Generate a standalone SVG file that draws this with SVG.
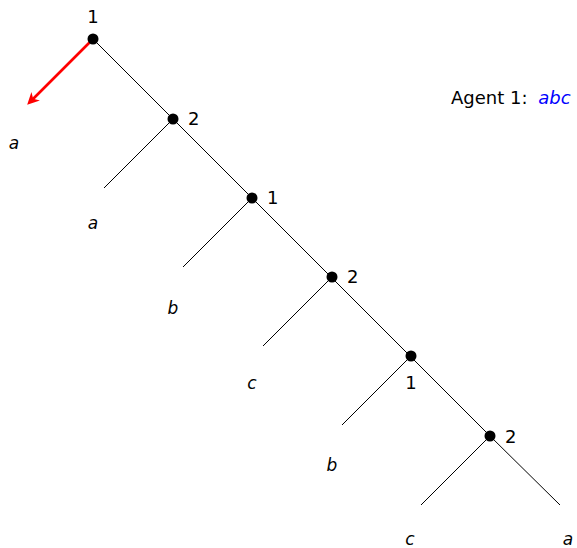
<svg xmlns="http://www.w3.org/2000/svg" width="577" height="548" viewBox="0 0 577 548">
  <style>
    .edge { stroke: #000; stroke-width: 1; fill: none; }
    .node { fill: #000; }
    .lbl { font-family: "DejaVu Sans", "Liberation Sans", sans-serif; font-size: 18px; fill: #000; }
    .leaf { font-family: "DejaVu Sans", "Liberation Sans", sans-serif; font-size: 17px; font-style: italic; fill: #000; text-anchor: middle; }
    .play { font-family: "DejaVu Sans", "Liberation Sans", sans-serif; font-size: 18px; font-style: italic; fill: #0000ff; }
  </style>
  <defs>
    <marker id="redHead" markerWidth="12" markerHeight="12" refX="8" refY="6" orient="auto" markerUnits="userSpaceOnUse">
      <path d="M0,0 L12,6 L0,12 L3.5,6 Z" fill="#ff0000"/>
    </marker>
  </defs>
  <rect width="577" height="548" fill="#fff"/>

  <g id="connectors">
    <line class="edge" x1="93" y1="39" x2="490" y2="436"/>
    <line class="edge" x1="490" y1="436" x2="560" y2="505"/>
    <line class="edge" x1="173" y1="119" x2="104" y2="188"/>
    <line class="edge" x1="252" y1="198" x2="183" y2="267"/>
    <line class="edge" x1="332" y1="277" x2="263" y2="346"/>
    <line class="edge" x1="411" y1="356" x2="342" y2="425"/>
    <line class="edge" x1="490" y1="436" x2="421" y2="505"/>
    <line x1="90" y1="42" x2="30" y2="102" stroke="#ff0000" stroke-width="2.6" marker-end="url(#redHead)"/>
  </g>

  <g id="n1"><circle class="node" cx="93" cy="39" r="5.5"/><text class="lbl" x="93" y="23" text-anchor="middle">1</text></g>
  <g id="n2"><circle class="node" cx="173" cy="119" r="5.5"/><text class="lbl" x="188" y="125">2</text></g>
  <g id="n3"><circle class="node" cx="252" cy="198" r="5.5"/><text class="lbl" x="267" y="204">1</text></g>
  <g id="n4"><circle class="node" cx="332" cy="277" r="5.5"/><text class="lbl" x="347" y="283">2</text></g>
  <g id="n5"><circle class="node" cx="411" cy="356" r="5.5"/><text class="lbl" x="411" y="389" text-anchor="middle">1</text></g>
  <g id="n6"><circle class="node" cx="490" cy="436" r="5.5"/><text class="lbl" x="505" y="443">2</text></g>

  <g id="leaves">
    <text class="leaf" x="14" y="149">a</text>
    <text class="leaf" x="93" y="229">a</text>
    <text class="leaf" x="173" y="314">b</text>
    <text class="leaf" x="252" y="389">c</text>
    <text class="leaf" x="332" y="471">b</text>
    <text class="leaf" x="410" y="545">c</text>
    <text class="leaf" x="568" y="545">a</text>
  </g>

  <g id="legend">
    <text class="lbl" x="451" y="104">Agent 1: <tspan class="play" dx="5">abc</tspan></text>
  </g>
</svg>
